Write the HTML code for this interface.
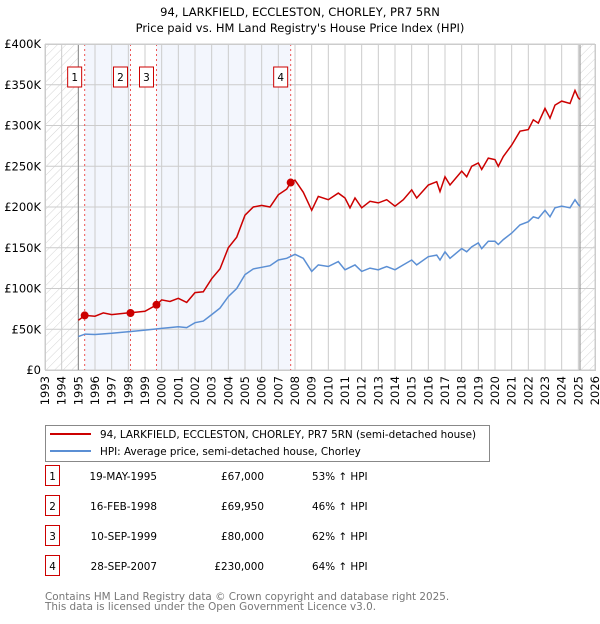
<!DOCTYPE html>
<html><head><meta charset="utf-8"><style>
body{margin:0;background:#fff;font-family:"DejaVu Sans","Liberation Sans",sans-serif;}
svg text{font-family:"DejaVu Sans","Liberation Sans",sans-serif;}
</style></head><body>
<svg id="c" width="600" height="620" xmlns="http://www.w3.org/2000/svg">
<defs><pattern id="hatch" width="6" height="6" patternUnits="userSpaceOnUse" patternTransform="rotate(45)"><line x1="0" y1="0" x2="0" y2="6" stroke="#d4d4d4" stroke-width="1"/></pattern></defs>
<text x="300" y="16" text-anchor="middle" font-size="11.5">94, LARKFIELD, ECCLESTON, CHORLEY, PR7 5RN</text>
<text x="300" y="32" text-anchor="middle" font-size="11.5">Price paid vs. HM Land Registry's House Price Index (HPI)</text>
<g id="plot"></g>
<g>
<rect x="45.5" y="425.5" width="444" height="36" fill="#fff" stroke="#888"/>
<line x1="50" y1="434" x2="91" y2="434" stroke="#cc0000" stroke-width="2"/>
<text x="100" y="438" font-size="10.4">94, LARKFIELD, ECCLESTON, CHORLEY, PR7 5RN (semi-detached house)</text>
<line x1="50" y1="451" x2="91" y2="451" stroke="#5b8fd4" stroke-width="2"/>
<text x="100" y="455" font-size="10.4">HPI: Average price, semi-detached house, Chorley</text>
</g>
<g id="table"></g>
<text x="45" y="600" font-size="10.4" fill="#777">Contains HM Land Registry data © Crown copyright and database right 2025.</text>
<text x="45" y="610" font-size="10.4" fill="#777">This data is licensed under the Open Government Licence v3.0.</text>
</svg>
<script>
const hpiYears=[1995,1995.4,1996,1997,1998,1999,2000,2001,2001.5,2002,2002.5,2003,2003.5,2004,2004.5,2005,2005.5,2006,2006.5,2007,2007.5,2008,2008.5,2009,2009.4,2010,2010.6,2011,2011.6,2012,2012.5,2013,2013.5,2014,2014.5,2015,2015.3,2016,2016.5,2016.7,2017,2017.3,2018,2018.3,2018.6,2019,2019.2,2019.6,2020,2020.2,2020.5,2021,2021.5,2022,2022.3,2022.6,2023,2023.3,2023.6,2024,2024.5,2024.8,2025,2025.1];
const hpiValues=[41,44,43.5,45,47,49,51,53,52,58,60,68,76,90,100,117,124,126,128,135,137,142,137,121,129,127,133,123,129,121,125,123,127,123,129,135,129,139,141,135,145,137,149,145,151,156,149,158,158,154,160,168,178,182,188,186,196,188,199,201,199,209,203,201];
const redYears=[1995,1995.4,1996,1996.5,1997,1998,1998.5,1999,1999.7,2000,2000.5,2001,2001.5,2002,2002.5,2003,2003.5,2004,2004.5,2005,2005.5,2006,2006.5,2007,2007.5,2007.74,2008,2008.5,2009,2009.4,2010,2010.6,2011,2011.3,2011.6,2012,2012.5,2013,2013.5,2014,2014.5,2015,2015.3,2016,2016.5,2016.7,2017,2017.3,2018,2018.3,2018.6,2019,2019.2,2019.6,2020,2020.2,2020.5,2021,2021.5,2022,2022.3,2022.6,2023,2023.3,2023.6,2024,2024.5,2024.8,2025,2025.1];
const redValues=[61,67,66,70,68,70,71,72,80,86,84,88,83,95,96,112,124,150,163,190,200,202,200,215,222,230,233,218,196,213,209,217,211,199,211,199,207,205,209,201,209,221,211,227,231,219,237,227,244,237,250,254,246,260,258,250,262,276,293,295,307,303,321,309,325,330,327,343,334,332];
const saleLabels=["1","2","3","4"];
const saleYears=[1995.38,1998.13,1999.69,2007.74];
const salePrices=[67,69.95,80,230];
const saleDates=["19-MAY-1995","16-FEB-1998","10-SEP-1999","28-SEP-2007"];
const salePriceText=["£67,000","£69,950","£80,000","£230,000"];
const saleHpiText=["53% ↑ HPI","46% ↑ HPI","62% ↑ HPI","64% ↑ HPI"];
const yTicks=[0,50,100,150,200,250,300,350,400];
const yTickLabels=["£0","£50K","£100K","£150K","£200K","£250K","£300K","£350K","£400K"];
const x0=45,x1=595,y0=370,y1=44;
const X=y=>x0+(y-1993)/33*(x1-x0);
const Y=v=>y0-v/400*(y0-y1);
const NS="http://www.w3.org/2000/svg";
const plot=document.getElementById('plot');
function mk(t,a,p){const e=document.createElementNS(NS,t);for(const k in a)e.setAttribute(k,a[k]);(p||plot).appendChild(e);return e;}
let e;
e=mk('rect',{x:x0,y:y1,width:x1-x0,height:y0-y1,fill:'#fff'});

e=mk('rect',{x:X(saleYears[0]),y:y1,width:X(saleYears[1])-X(saleYears[0]),height:y0-y1,fill:'#f3f6fd'});

e=mk('rect',{x:X(saleYears[2]),y:y1,width:X(saleYears[3])-X(saleYears[2]),height:y0-y1,fill:'#f3f6fd'});

e=mk('rect',{x:x0,y:y1,width:X(1995)-x0,height:y0-y1,fill:'url(#hatch)'});

e=mk('rect',{x:X(2025.1),y:y1,width:x1-X(2025.1),height:y0-y1,fill:'url(#hatch)'});

for(let yr=1993;yr<=2026;yr++){
 e=mk('line',{x1:X(yr),x2:X(yr),y1:y1,y2:y0,stroke:'#ccc','stroke-width':1});
 
 e=mk('text',{x:0,y:0,'font-size':11.5,'text-anchor':'end',transform:`translate(${X(yr)+4},${y0+6}) rotate(-90)`});
 e.textContent=yr;
 
}
yTicks.forEach((v,i)=>{
 e=mk('line',{x1:x0,x2:x1,y1:Y(v),y2:Y(v),stroke:'#ccc','stroke-width':1});
 
 e=mk('text',{x:x0-4,y:Y(v)+4,'font-size':11.5,'text-anchor':'end'});
 e.textContent=yTickLabels[i];
 
});
e=mk('line',{x1:X(1995),x2:X(1995),y1:y1,y2:y0,stroke:'#888'});

e=mk('line',{x1:X(2025.1),x2:X(2025.1),y1:y1,y2:y0,stroke:'#888'});

saleYears.forEach((s,i)=>{
 e=mk('line',{x1:X(s),x2:X(s),y1:y1,y2:y0,stroke:'#ee5555','stroke-dasharray':'2,3'});
 
});
const pts=(xs,vs)=>xs.map((x,i)=>X(x).toFixed(1)+','+Y(vs[i]).toFixed(1)).join(' ');
e=mk('polyline',{points:pts(hpiYears,hpiValues),fill:'none',stroke:'#5b8fd4','stroke-width':1.5});

e=mk('polyline',{points:pts(redYears,redValues),fill:'none',stroke:'#cc0000','stroke-width':1.5});

saleYears.forEach((s,i)=>{
 e=mk('circle',{cx:X(s),cy:Y(salePrices[i]),r:4,fill:'#cc0000'});
 
 e=mk('rect',{x:X(s)-17,y:67,width:14,height:20,fill:'#fff',stroke:'#cc0000'});
 
 e=mk('text',{x:X(s)-10,y:81,'font-size':10.5,'text-anchor':'middle'});
 e.textContent=saleLabels[i];
 
});
e=mk('rect',{x:x0+.5,y:y1+.5,width:x1-x0,height:y0-y1,fill:'none',stroke:'#ccc'});

const tb=document.getElementById('table');
saleLabels.forEach((l,i)=>{
 const yy=473+i*30;
 e=mk('rect',{x:45.5,y:yy-7.5,width:14,height:20,fill:'#fff',stroke:'#cc0000'},tb);
 
 e=mk('text',{x:52.5,y:yy+7,'font-size':10.4,'text-anchor':'middle'},tb);e.textContent=l;
 
 e=mk('text',{x:157,y:yy+7,'font-size':10.4,'text-anchor':'end'},tb);e.textContent=saleDates[i];
 
 e=mk('text',{x:264,y:yy+7,'font-size':10.4,'text-anchor':'end'},tb);e.textContent=salePriceText[i];
 
 e=mk('text',{x:312,y:yy+7,'font-size':10.4},tb);e.textContent=saleHpiText[i];
 
});
</script>
</body></html>
